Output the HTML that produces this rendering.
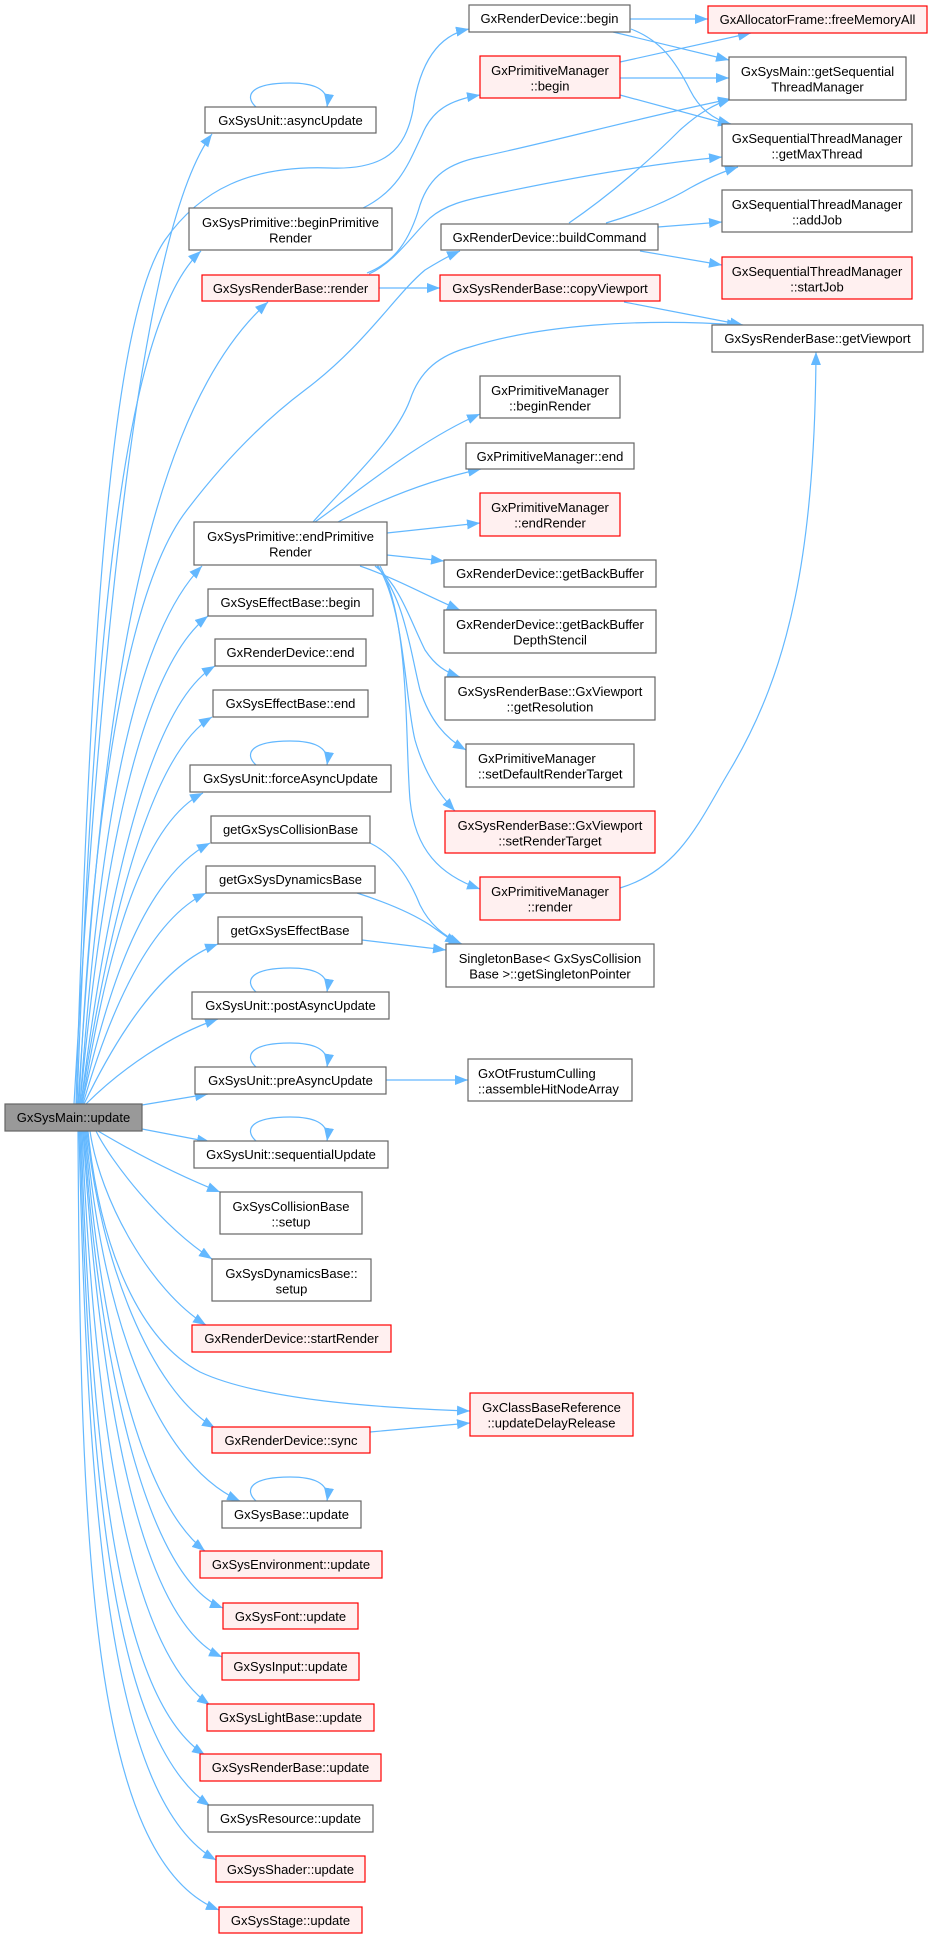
<!DOCTYPE html>
<html>
<head>
<meta charset="utf-8">
<style>
html,body{margin:0;padding:0;background:#fff;}
svg{display:block;}
text{font-family:"Liberation Sans",Arial,sans-serif;font-size:13px;fill:#000;}
.g{fill:#fff;stroke:#666;stroke-width:1.2;}
.r{fill:#fff0f0;stroke:#ff0000;stroke-width:1.2;}
.root{fill:#999;stroke:#666;stroke-width:1.2;}
.e{fill:none;stroke:#63b8ff;stroke-width:1.2;marker-end:url(#a);}
</style>
</head>
<body>
<svg width="932" height="1939" viewBox="0 0 932 1939" xmlns="http://www.w3.org/2000/svg">
<defs>
<marker id="a" markerWidth="14" markerHeight="10" refX="13" refY="5" orient="auto" markerUnits="userSpaceOnUse">
<path d="M0,0 L13,5 L0,10 z" fill="#63b8ff"/>
</marker>
</defs>
<rect width="932" height="1939" fill="#fff"/>

<!-- edges from root, upward -->
<path class="e" d="M74,1104 C100,650 140,230 212,134"/>
<path class="e" d="M76,1104 C90,650 110,320 165,240 C200,190 250,165 330,168 C385,170 405,150 413,110 C420,60 440,35 469,29"/>
<path class="e" d="M77,1104 C92,700 115,330 201,251"/>
<path class="e" d="M78,1104 C98,800 125,430 268,302"/>
<path class="e" d="M79,1104 C92,820 125,590 187,510 C225,460 265,420 305,390 C365,345 395,295 425,270 C438,262 448,256 460,251"/>
<path class="e" d="M80,1104 C95,900 120,650 202,566"/>
<path class="e" d="M80,1104 C95,950 125,680 208,616"/>
<path class="e" d="M81,1104 C100,950 140,710 215,666"/>
<path class="e" d="M81,1104 C100,980 140,760 212,717"/>
<path class="e" d="M82,1104 C100,1000 130,830 203,793"/>
<path class="e" d="M82,1104 C105,1000 140,880 210,843"/>
<path class="e" d="M83,1104 C110,1010 150,920 206,893"/>
<path class="e" d="M84,1104 C115,1040 160,965 218,944"/>
<path class="e" d="M86,1104 C120,1070 170,1035 218,1019"/>
<path class="e" d="M142,1105 L208,1094"/>
<!-- edges from root, downward -->
<path class="e" d="M142,1129 L210,1142"/>
<path class="e" d="M98,1131 C130,1150 170,1172 220,1192"/>
<path class="e" d="M96,1131 C110,1160 160,1225 212,1259"/>
<path class="e" d="M90,1131 C100,1200 150,1290 206,1325"/>
<path class="e" d="M88,1131 C100,1250 140,1340 200,1372 C260,1400 380,1408 470,1411"/>
<path class="e" d="M87,1131 C100,1260 150,1390 215,1428"/>
<path class="e" d="M86,1131 C100,1300 150,1460 240,1501"/>
<path class="e" d="M85,1131 C100,1330 140,1500 205,1551"/>
<path class="e" d="M84,1131 C100,1380 150,1580 223,1608"/>
<path class="e" d="M83,1131 C100,1400 140,1620 222,1657"/>
<path class="e" d="M82,1131 C95,1430 130,1650 210,1705"/>
<path class="e" d="M81,1131 C92,1470 120,1700 205,1755"/>
<path class="e" d="M80,1131 C90,1500 115,1740 210,1806"/>
<path class="e" d="M79,1131 C88,1520 110,1800 216,1860"/>
<path class="e" d="M78,1131 C80,1550 92,1860 219,1910"/>

<!-- middle edges -->
<path class="e" d="M363,208 C400,190 410,160 422,135 C432,110 450,100 480,95"/>
<path class="e" d="M367,273 C395,262 410,240 420,205 C430,175 450,163 480,157 C560,140 650,115 731,99"/>
<path class="e" d="M369,274 C395,262 412,235 430,218 C445,205 465,200 490,195 C560,180 640,165 722,157"/>
<path class="e" d="M379,288 L440,288"/>
<path class="e" d="M630,19 L708,19"/>
<path class="e" d="M613,32 L729,60"/>
<path class="e" d="M631,29 C660,40 675,60 690,90 C700,110 715,120 731,124"/>
<path class="e" d="M620,62 L751,33"/>
<path class="e" d="M620,78 L729,78"/>
<path class="e" d="M620,95 L731,125"/>
<path class="e" d="M569,223 C610,195 650,160 680,130 C700,112 715,104 731,99"/>
<path class="e" d="M606,223 C640,213 670,200 690,188 C710,177 725,171 738,167"/>
<path class="e" d="M658,227 L722,222"/>
<path class="e" d="M640,251 L722,265"/>
<path class="e" d="M624,302 L743,325"/>
<path class="e" d="M313,522 C350,480 395,440 410,400 C420,370 440,355 470,347 C540,325 640,318 740,325"/>
<path class="e" d="M315,522 C360,490 420,440 480,414"/>
<path class="e" d="M338,522 C380,500 430,480 481,469"/>
<path class="e" d="M387,533 L480,523"/>
<path class="e" d="M387,555 L444,561"/>
<path class="e" d="M360,566 C395,578 425,595 460,610"/>
<path class="e" d="M375,566 C400,585 410,620 425,650 C435,665 445,672 460,677"/>
<path class="e" d="M377,566 C405,600 410,650 420,690 C430,720 445,738 466,750"/>
<path class="e" d="M378,566 C405,610 405,700 415,740 C425,775 440,795 455,811"/>
<path class="e" d="M380,566 C410,620 405,740 410,800 C415,850 440,875 480,889"/>
<path class="e" d="M620,888 C680,870 700,820 730,770 C790,670 815,550 816,352"/>
<path class="e" d="M370,843 C395,855 410,880 420,905 C430,925 445,937 462,944"/>
<path class="e" d="M357,893 C385,902 410,912 430,925 C440,932 448,938 458,944"/>
<path class="e" d="M362,940 L446,950"/>
<path class="e" d="M386,1080 L468,1080"/>
<path class="e" d="M370,1432 L470,1423"/>

<!-- self loops -->
<path class="e" d="M256,107 C244,96 250,83 290,83 C312,83 330,88 327,107"/>
<path class="e" d="M256,765 C244,754 250,741 290,741 C312,741 330,746 327,765"/>
<path class="e" d="M256,992 C244,981 250,968 290,968 C312,968 330,973 327,992"/>
<path class="e" d="M256,1067 C244,1056 250,1043 290,1043 C312,1043 330,1048 327,1067"/>
<path class="e" d="M256,1141 C244,1130 250,1117 290,1117 C312,1117 330,1122 327,1141"/>
<path class="e" d="M256,1501 C244,1490 250,1477 290,1477 C312,1477 330,1482 327,1501"/>

<!-- left column nodes -->
<rect class="g" x="205" y="107" width="171" height="26"/><text x="290.5" y="125" text-anchor="middle">GxSysUnit::asyncUpdate</text>
<rect class="g" x="189" y="208" width="203" height="42"/><text x="290.5" y="227" text-anchor="middle">GxSysPrimitive::beginPrimitive</text><text x="290.5" y="242.5" text-anchor="middle">Render</text>
<rect class="r" x="202" y="275" width="177" height="26"/><text x="290.5" y="293" text-anchor="middle">GxSysRenderBase::render</text>
<rect class="g" x="194" y="522" width="193" height="43"/><text x="290.5" y="541" text-anchor="middle">GxSysPrimitive::endPrimitive</text><text x="290.5" y="556.5" text-anchor="middle">Render</text>
<rect class="g" x="208" y="589" width="165" height="27"/><text x="290.5" y="607" text-anchor="middle">GxSysEffectBase::begin</text>
<rect class="g" x="215" y="639" width="151" height="27"/><text x="290.5" y="657" text-anchor="middle">GxRenderDevice::end</text>
<rect class="g" x="213" y="690" width="155" height="27"/><text x="290.5" y="708" text-anchor="middle">GxSysEffectBase::end</text>
<rect class="g" x="190" y="765" width="201" height="27"/><text x="290.5" y="783" text-anchor="middle">GxSysUnit::forceAsyncUpdate</text>
<rect class="g" x="211" y="816" width="159" height="27"/><text x="290.5" y="834" text-anchor="middle">getGxSysCollisionBase</text>
<rect class="g" x="206" y="866" width="169" height="27"/><text x="290.5" y="884" text-anchor="middle">getGxSysDynamicsBase</text>
<rect class="g" x="218" y="917" width="144" height="27"/><text x="290" y="935" text-anchor="middle">getGxSysEffectBase</text>
<rect class="g" x="192" y="992" width="197" height="27"/><text x="290.5" y="1010" text-anchor="middle">GxSysUnit::postAsyncUpdate</text>
<rect class="g" x="195" y="1067" width="191" height="27"/><text x="290.5" y="1085" text-anchor="middle">GxSysUnit::preAsyncUpdate</text>
<rect class="root" x="5" y="1104" width="137" height="27"/><text x="73.5" y="1122" text-anchor="middle">GxSysMain::update</text>
<rect class="g" x="194" y="1141" width="194" height="27"/><text x="291" y="1159" text-anchor="middle">GxSysUnit::sequentialUpdate</text>
<rect class="g" x="220" y="1192" width="142" height="42"/><text x="291" y="1211" text-anchor="middle">GxSysCollisionBase</text><text x="291" y="1226.5" text-anchor="middle">::setup</text>
<rect class="g" x="212" y="1259" width="159" height="42"/><text x="291.5" y="1278" text-anchor="middle">GxSysDynamicsBase::</text><text x="291.5" y="1293.5" text-anchor="middle">setup</text>
<rect class="r" x="192" y="1325" width="199" height="27"/><text x="291.5" y="1343" text-anchor="middle">GxRenderDevice::startRender</text>
<rect class="r" x="212" y="1427" width="158" height="26"/><text x="291" y="1445" text-anchor="middle">GxRenderDevice::sync</text>
<rect class="g" x="222" y="1501" width="139" height="27"/><text x="291.5" y="1519" text-anchor="middle">GxSysBase::update</text>
<rect class="r" x="200" y="1551" width="182" height="27"/><text x="291" y="1569" text-anchor="middle">GxSysEnvironment::update</text>
<rect class="r" x="223" y="1603" width="135" height="26"/><text x="290.5" y="1621" text-anchor="middle">GxSysFont::update</text>
<rect class="r" x="222" y="1653" width="137" height="27"/><text x="290.5" y="1671" text-anchor="middle">GxSysInput::update</text>
<rect class="r" x="207" y="1704" width="167" height="27"/><text x="290.5" y="1722" text-anchor="middle">GxSysLightBase::update</text>
<rect class="r" x="200" y="1754" width="181" height="27"/><text x="290.5" y="1772" text-anchor="middle">GxSysRenderBase::update</text>
<rect class="g" x="208" y="1805" width="165" height="27"/><text x="290.5" y="1823" text-anchor="middle">GxSysResource::update</text>
<rect class="r" x="216" y="1856" width="149" height="26"/><text x="290.5" y="1874" text-anchor="middle">GxSysShader::update</text>
<rect class="r" x="219" y="1907" width="143" height="26"/><text x="290.5" y="1925" text-anchor="middle">GxSysStage::update</text>

<!-- middle column nodes -->
<rect class="g" x="469" y="5" width="161" height="27"/><text x="549.5" y="23" text-anchor="middle">GxRenderDevice::begin</text>
<rect class="r" x="480" y="56" width="140" height="42"/><text x="550" y="75" text-anchor="middle">GxPrimitiveManager</text><text x="550" y="90.5" text-anchor="middle">::begin</text>
<rect class="g" x="441" y="224" width="217" height="26"/><text x="549.5" y="242" text-anchor="middle">GxRenderDevice::buildCommand</text>
<rect class="r" x="440" y="275" width="220" height="26"/><text x="550" y="293" text-anchor="middle">GxSysRenderBase::copyViewport</text>
<rect class="g" x="480" y="376" width="140" height="42"/><text x="550" y="395" text-anchor="middle">GxPrimitiveManager</text><text x="550" y="410.5" text-anchor="middle">::beginRender</text>
<rect class="g" x="466" y="443" width="168" height="26"/><text x="550" y="461" text-anchor="middle">GxPrimitiveManager::end</text>
<rect class="r" x="480" y="493" width="140" height="43"/><text x="550" y="512" text-anchor="middle">GxPrimitiveManager</text><text x="550" y="527.5" text-anchor="middle">::endRender</text>
<rect class="g" x="444" y="560" width="212" height="27"/><text x="550" y="578" text-anchor="middle">GxRenderDevice::getBackBuffer</text>
<rect class="g" x="444" y="610" width="212" height="43"/><text x="550" y="629" text-anchor="middle">GxRenderDevice::getBackBuffer</text><text x="550" y="644.5" text-anchor="middle">DepthStencil</text>
<rect class="g" x="445" y="677" width="210" height="43"/><text x="550" y="696" text-anchor="middle">GxSysRenderBase::GxViewport</text><text x="550" y="711.5" text-anchor="middle">::getResolution</text>
<rect class="g" x="466" y="744" width="168" height="43"/><text x="478" y="763">GxPrimitiveManager</text><text x="478" y="778.5">::setDefaultRenderTarget</text>
<rect class="r" x="445" y="811" width="210" height="42"/><text x="550" y="830" text-anchor="middle">GxSysRenderBase::GxViewport</text><text x="550" y="845.5" text-anchor="middle">::setRenderTarget</text>
<rect class="r" x="480" y="877" width="140" height="43"/><text x="550" y="896" text-anchor="middle">GxPrimitiveManager</text><text x="550" y="911.5" text-anchor="middle">::render</text>
<rect class="g" x="446" y="944" width="208" height="43"/><text x="550" y="963" text-anchor="middle">SingletonBase&lt; GxSysCollision</text><text x="550" y="978.5" text-anchor="middle">Base &gt;::getSingletonPointer</text>
<rect class="g" x="468" y="1059" width="164" height="42"/><text x="478" y="1078">GxOtFrustumCulling</text><text x="478" y="1093.5">::assembleHitNodeArray</text>
<rect class="r" x="470" y="1393" width="163" height="43"/><text x="551.5" y="1412" text-anchor="middle">GxClassBaseReference</text><text x="551.5" y="1427.5" text-anchor="middle">::updateDelayRelease</text>

<!-- right column nodes -->
<rect class="r" x="708" y="6" width="219" height="27"/><text x="817.5" y="24" text-anchor="middle">GxAllocatorFrame::freeMemoryAll</text>
<rect class="g" x="729" y="57" width="177" height="43"/><text x="817.5" y="76" text-anchor="middle">GxSysMain::getSequential</text><text x="817.5" y="91.5" text-anchor="middle">ThreadManager</text>
<rect class="g" x="722" y="124" width="190" height="42"/><text x="817" y="143" text-anchor="middle">GxSequentialThreadManager</text><text x="817" y="158.5" text-anchor="middle">::getMaxThread</text>
<rect class="g" x="722" y="190" width="190" height="42"/><text x="817" y="209" text-anchor="middle">GxSequentialThreadManager</text><text x="817" y="224.5" text-anchor="middle">::addJob</text>
<rect class="r" x="722" y="257" width="190" height="42"/><text x="817" y="276" text-anchor="middle">GxSequentialThreadManager</text><text x="817" y="291.5" text-anchor="middle">::startJob</text>
<rect class="g" x="712" y="325" width="211" height="27"/><text x="817.5" y="343" text-anchor="middle">GxSysRenderBase::getViewport</text>
</svg>
</body>
</html>
